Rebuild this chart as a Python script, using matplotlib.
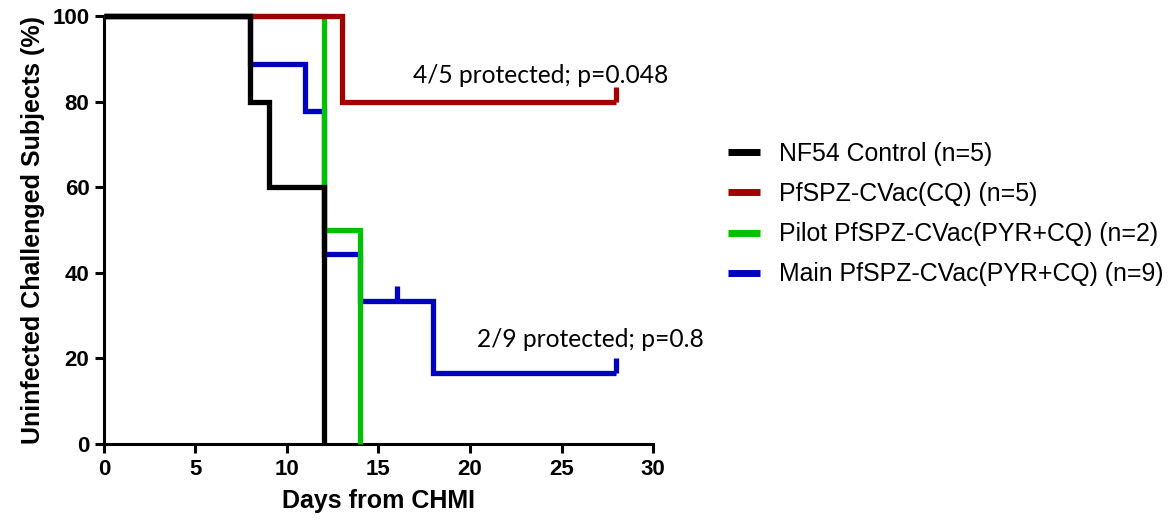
import matplotlib
matplotlib.use("Agg")
import matplotlib.pyplot as plt
import numpy as np

# Kaplan-Meier step data (days, % uninfected)
labels = ["NF54 Control (n=5)", "PfSPZ-CVac(CQ) (n=5)",
          "Pilot PfSPZ-CVac(PYR+CQ) (n=2)", "Main PfSPZ-CVac(PYR+CQ) (n=9)"]
colors = ["#000000", "#a00000", "#00c000", "#0000c0"]

control_t = [0, 8, 9, 12]
control_s = [100, 80, 60, 0]
cq_t = [0, 13, 28]
cq_s = [100, 80, 80]
pilot_t = [0, 12, 14]
pilot_s = [100, 50, 0]
main_t = [0, 8, 11, 12, 14, 18, 28]
main_s = [100, 88.9, 77.8, 44.4, 33.3, 16.7, 16.7]

cq_cens_t = [28]
cq_cens_s = [80]
main_cens_t = [16, 28]
main_cens_s = [33.3, 16.7]

xticks = [0, 5, 10, 15, 20, 25, 30]
yticks = [0, 20, 40, 60, 80, 100]

font_b = ['Liberation Sans', 'DejaVu Sans']

fig = plt.figure(figsize=(11.76, 5.25), dpi=100)
ax = fig.add_axes([0.0884, 0.1543, 0.4669, 0.8152])

lw = 3.8
series = [(main_t, main_s, 3), (pilot_t, pilot_s, 2), (cq_t, cq_s, 1), (control_t, control_s, 0)]
handles = {}
for t, s, i in series:
    ln, = ax.step(t, s, where='post', color=colors[i], lw=lw, clip_on=False,
                  solid_capstyle='butt', solid_joinstyle='miter', label=labels[i], zorder=2 + (3 - i))
    handles[i] = ln

tick_h = 3.5
ax.vlines(cq_cens_t, cq_cens_s, np.array(cq_cens_s) + tick_h, color=colors[1], lw=lw, clip_on=False, zorder=4)
ax.vlines(main_cens_t, main_cens_s, np.array(main_cens_s) + tick_h, color=colors[3], lw=lw, clip_on=False, zorder=2)

ax.set_xlim(0, 30)
ax.set_ylim(0, 100)
ax.set_xticks(xticks)
ax.set_yticks(yticks)
for sp in ['top', 'right']:
    ax.spines[sp].set_visible(False)
for sp in ['left', 'bottom']:
    ax.spines[sp].set_linewidth(2.2)
ax.tick_params(width=2.2, length=6.5, labelsize=16, pad=4)
for lab in ax.get_xticklabels() + ax.get_yticklabels():
    lab.set_fontfamily(font_b)
    lab.set_fontweight('bold')

ax.set_xlabel("Days from CHMI", fontsize=18, fontweight='bold', family=font_b, labelpad=7)
ax.set_ylabel("Uninfected Challenged Subjects (%)", fontsize=18, fontweight='bold', family=font_b, labelpad=5)

ann_font = ['Lato', 'Open Sans', 'DejaVu Sans']
ax.text(16.9, 86.2, "4/5 protected; p=0.048", fontsize=17.7, family=ann_font,
        va='center', ha='left')
ax.text(20.4, 24.3, "2/9 protected; p=0.8", fontsize=17.7, family=ann_font,
        va='center', ha='left')

leg = fig.legend([handles[i] for i in range(4)], labels, loc='center left',
                 bbox_to_anchor=(0.600, 0.592), frameon=False,
                 prop={'family': ['Liberation Sans', 'DejaVu Sans'], 'size': 17.9},
                 handlelength=1.3, handletextpad=0.75, labelspacing=0.65)
for h in leg.legend_handles:
    h.set_linewidth(5)

fig.savefig("out.png", dpi=100)
